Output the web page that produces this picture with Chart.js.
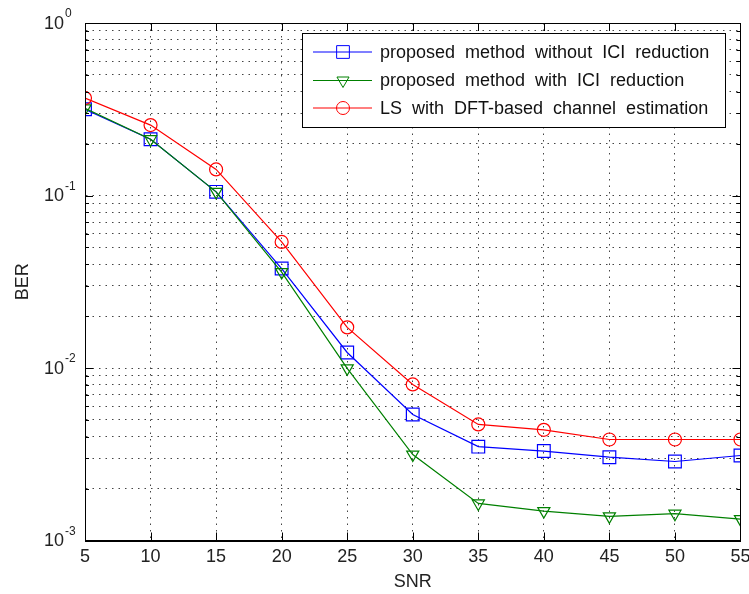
<!DOCTYPE html>
<html>
<head>
<meta charset="utf-8">
<script src="https://cdn.jsdelivr.net/npm/chart.js@4"></script>
<style>
html, body { margin: 0; padding: 0; background: #fff; overflow: hidden; }
#wrap { width: 749px; height: 594px; overflow: hidden; }
</style>
</head>
<body>
<div id="wrap"><canvas id="berChart" width="758" height="594"></canvas></div>
<script>
// values
var snr = [5, 10, 15, 20, 25, 30, 35, 40, 45, 50, 55];
var berNoIci = [0.316, 0.212, 0.105, 0.0377, 0.0123, 0.00538, 0.0035, 0.0033, 0.00304, 0.00287, 0.00311];
var berIci = [0.32, 0.212, 0.105, 0.036, 0.00995, 0.00315, 0.00164, 0.00148, 0.00138, 0.00143, 0.00133];
var berLs = [0.367, 0.256, 0.1416, 0.0538, 0.0172, 0.00803, 0.00471, 0.00438, 0.00385, 0.00385, 0.00385];
var seriesNames = [
    'proposed method without ICI reduction',
    'proposed method with ICI reduction',
    'LS with DFT-based channel estimation'
];
var xTicks = [5, 10, 15, 20, 25, 30, 35, 40, 45, 50, 55];
var yDecades = [-3, -2, -1, 0];
var yMantissas = [1, 2, 3, 4, 5, 6, 7, 8, 9];

var FONT = '"Liberation Sans", Arial, sans-serif';

var yTickValues = [];
yDecades.forEach(function (e) {
    yMantissas.forEach(function (m) {
        if (e === 0 && m > 1) return;
        yTickValues.push(+(m * Math.pow(10, e)).toPrecision(3));
    });
});

function line(ctx, x1, y1, x2, y2) {
    ctx.beginPath();
    ctx.moveTo(x1, y1);
    ctx.lineTo(x2, y2);
    ctx.stroke();
}

// matlab style box, inner ticks, 10^n labels and legend
var matlabFrame = {
    id: 'matlabFrame',
    afterDraw: function (chart) {
        var ctx = chart.ctx;
        var a = chart.chartArea;
        var xs = chart.scales.x;
        var ys = chart.scales.y;
        ctx.save();
        ctx.strokeStyle = '#000';
        ctx.lineWidth = 1;
        ctx.setLineDash([]);

        xTicks.forEach(function (v) {
            var px = Math.round(xs.getPixelForValue(v)) + 0.5;
            line(ctx, px, a.bottom, px, a.bottom - 8);
            line(ctx, px, a.top, px, a.top + 8);
        });
        yTickValues.forEach(function (v) {
            var py = Math.round(ys.getPixelForValue(v)) + 0.5;
            var major = yDecades.some(function (e) { return Math.abs(v - Math.pow(10, e)) < 1e-9; });
            var len = major ? 8 : 4;
            line(ctx, a.left, py, a.left + len, py);
            line(ctx, a.right, py, a.right - len, py);
        });
        ctx.strokeRect(Math.round(a.left) + 0.5, Math.round(a.top) + 0.5,
            Math.round(a.right - a.left), Math.round(a.bottom - a.top));

        // y tick labels with superscript exponent
        ctx.fillStyle = '#222';
        yDecades.forEach(function (e) {
            var py = ys.getPixelForValue(Math.pow(10, e));
            ctx.font = '18px ' + FONT;
            ctx.textAlign = 'right';
            ctx.textBaseline = 'middle';
            ctx.fillText('10', a.left - 21, py + 1);
            ctx.font = '12px ' + FONT;
            ctx.textAlign = 'left';
            ctx.fillText(String(e), a.left - 20, py - 9);
        });

        // legend
        var box = { left: 302, top: 33, right: 725, bottom: 127 };
        ctx.fillStyle = '#fff';
        ctx.fillRect(box.left, box.top, box.right - box.left, box.bottom - box.top);
        ctx.strokeStyle = '#000';
        ctx.strokeRect(box.left + 0.5, box.top + 0.5, box.right - box.left, box.bottom - box.top);
        var rowY = [52, 80.5, 108];
        chart.data.datasets.forEach(function (ds, i) {
            var y = rowY[i];
            ctx.strokeStyle = ds.borderColor;
            ctx.lineWidth = ds.borderWidth;
            line(ctx, 313, y, 372, y);
            ctx.fillStyle = 'rgba(0,0,0,0)';
            ctx.lineWidth = 1;
            Chart.helpers.drawPoint(ctx, {
                pointStyle: ds.pointStyle,
                rotation: ds.pointRotation || 0,
                radius: ds.pointRadius,
                borderWidth: 1
            }, 343, y);
            ctx.fillStyle = '#111';
            ctx.font = '18px ' + FONT;
            ctx.wordSpacing = '5px';
            ctx.textAlign = 'left';
            ctx.textBaseline = 'middle';
            ctx.fillText(ds.label, 380, y + 1);
        });
        ctx.restore();
    }
};

var ctx = document.getElementById('berChart');
var berChart = new Chart(ctx, {
    type: 'line',
    data: {
        labels: snr,
        datasets: [{
            label: seriesNames[0],
            data: berNoIci,
            borderColor: '#0000ff',
            borderWidth: 1.2,
            pointStyle: 'rect',
            pointRadius: 9,
            pointBorderWidth: 1.2,
            pointBackgroundColor: 'rgba(0,0,0,0)',
            order: 3
        }, {
            label: seriesNames[1],
            data: berIci,
            borderColor: '#008000',
            borderWidth: 1.2,
            pointStyle: 'triangle',
            pointRotation: 180,
            pointRadius: 7,
            pointBorderWidth: 1.2,
            pointBackgroundColor: 'rgba(0,0,0,0)',
            order: 2
        }, {
            label: seriesNames[2],
            data: berLs,
            borderColor: '#ff0000',
            borderWidth: 1.2,
            pointStyle: 'circle',
            pointRadius: 6.5,
            pointBorderWidth: 1.2,
            pointBackgroundColor: 'rgba(0,0,0,0)',
            order: 1
        }]
    },
    options: {
        responsive: false,
        animation: false,
        layout: { padding: { left: 14, top: 23, right: 0, bottom: 1 } },
        plugins: {
            legend: { display: false },
            tooltip: { enabled: false }
        },
        elements: { line: { tension: 0 } },
        scales: {
            x: {
                type: 'linear',
                min: 5,
                max: 55,
                afterBuildTicks: function (scale) {
                    scale.ticks = xTicks.map(function (v) { return { value: v }; });
                },
                ticks: {
                    font: { size: 18, family: FONT, lineHeight: 1 },
                    color: '#222',
                    padding: 7.5,
                    maxRotation: 0,
                    autoSkip: false
                },
                grid: { color: '#444', lineWidth: 1, drawTicks: false },
                border: { display: true, color: '#000', dash: [1.5, 5] },
                title: {
                    display: true,
                    text: 'SNR',
                    font: { size: 18, family: FONT, lineHeight: 1 },
                    color: '#222',
                    padding: { top: 0, bottom: 1.5 }
                }
            },
            y: {
                type: 'logarithmic',
                min: 0.001,
                max: 1,
                afterBuildTicks: function (scale) {
                    scale.ticks = yTickValues.map(function (v) { return { value: v }; });
                },
                ticks: { display: false },
                grid: { color: '#444', lineWidth: 1, drawTicks: false },
                border: { display: true, color: '#000', dash: [1.5, 5] },
                title: {
                    display: true,
                    text: 'BER',
                    font: { size: 18, family: FONT, lineHeight: 1 },
                    color: '#222',
                    padding: { top: 0, bottom: 53 }
                }
            }
        }
    },
    plugins: [matlabFrame]
});
</script>
</body>
</html>
